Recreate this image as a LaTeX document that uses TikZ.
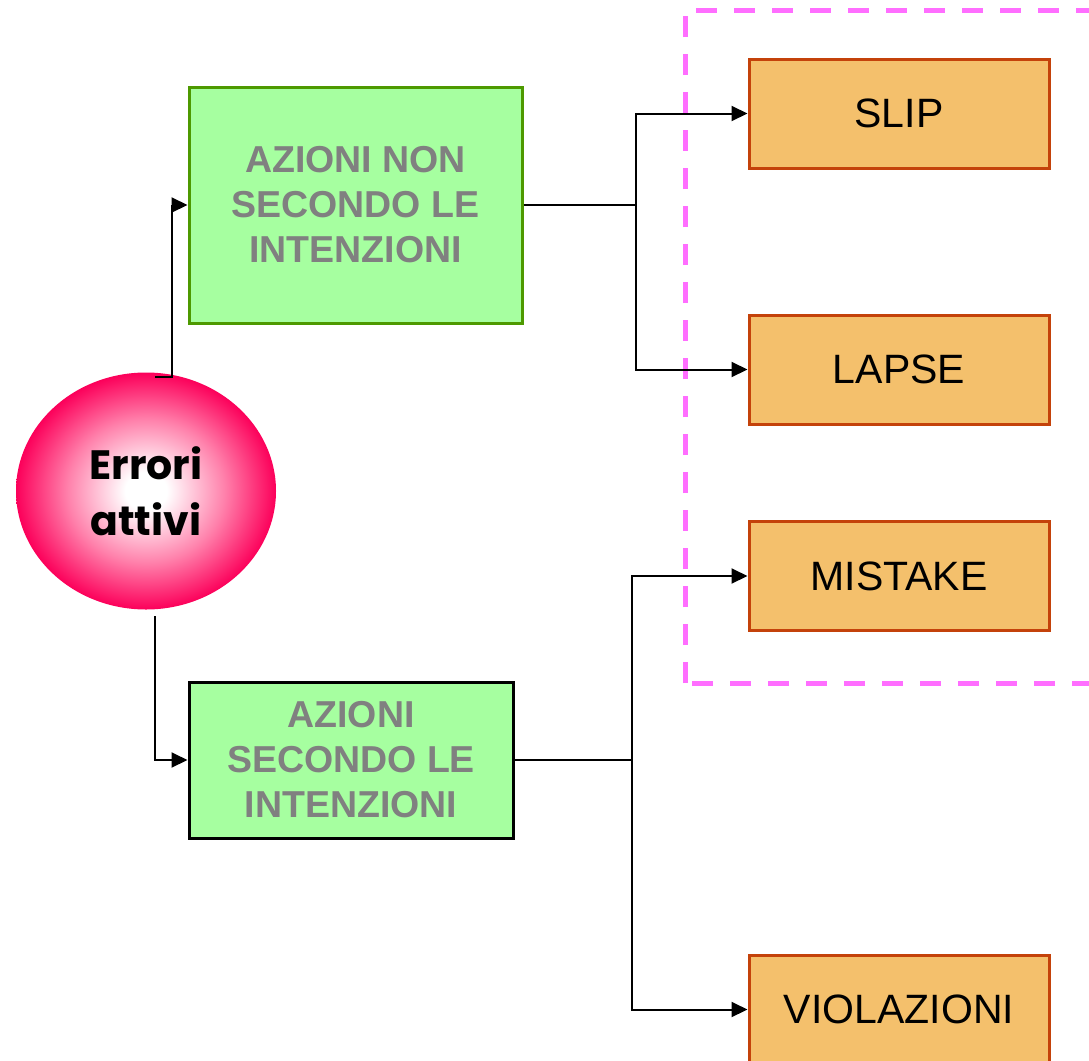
\documentclass[tikz,border=0pt]{standalone}
\usepackage{fontspec}
\setmainfont{Liberation Sans}
\newfontfamily\popfont{Poppins}
\usetikzlibrary{arrows.meta,shapes.geometric}
\definecolor{greenfill}{RGB}{166,255,160}
\definecolor{greenedge}{RGB}{77,153,0}
\definecolor{orangefill}{RGB}{244,192,108}
\definecolor{orangeedge}{RGB}{196,66,10}
\definecolor{dashmag}{RGB}{255,110,255}
\definecolor{pinkc}{RGB}{252,0,90}
\definecolor{pinkmid}{RGB}{255,130,172}
\definecolor{graytext}{RGB}{128,128,128}
\pgfdeclareradialshading{ballshade}{\pgfpoint{0bp}{0bp}}{color(0bp)=(white); color(4bp)=(white); color(15bp)=(pinkmid); color(25bp)=(pinkc); color(50bp)=(pinkc)}
\tikzset{
  greenbox/.style={draw=greenedge, fill=greenfill, line width=3pt, inner sep=0pt,
    text=graytext, font=\fontsize{37.5}{45}\selectfont\bfseries, align=center},
  orangebox/.style={draw=orangeedge, fill=orangefill, line width=3pt, inner sep=0pt,
    minimum width=300pt, minimum height=109pt, font=\fontsize{41}{48}\selectfont},
  conn/.style={line width=2pt, -{Triangle[length=16pt,width=15pt]}},
  plainconn/.style={line width=2pt},
}
\begin{document}
\begin{tikzpicture}[x=1pt,y=-1pt]
\clip (0,0) rectangle (1089,1060);
\fill[white] (0,0) rectangle (1089,1060);
% dashed frame
\draw[dashmag, line width=5pt, dash pattern=on 21pt off 17pt] (685,683) -- (685,10) -- (1120,10);
\draw[dashmag, line width=5pt, dash pattern=on 21pt off 17pt] (692,683) -- (1120,683);
% ellipse
\node[ellipse, shading=ballshade, minimum width=260pt, minimum height=237pt, inner sep=0pt,
  align=center, font=\popfont\fontsize{41}{56}\selectfont\bfseries] (err) at (146,491) {Errori\\attivi};
% green boxes
\node[greenbox, minimum width=333pt, minimum height=236pt] (b1) at (355.5,205) {AZIONI NON\\SECONDO LE\\INTENZIONI};
\node[greenbox, draw=black, minimum width=324pt, minimum height=156pt] (b2) at (351,760) {AZIONI\\SECONDO LE\\INTENZIONI};
% orange boxes
\node[orangebox] (slip) at (899,113.5) {SLIP};
\node[orangebox] (lapse) at (899,369.5) {LAPSE};
\node[orangebox] (mist) at (899,576) {MISTAKE};
\node[orangebox] (viol) at (899,1009.5) {VIOLAZIONI};
% connectors
\coordinate (s1) at (155,377);
\coordinate (s2) at (155,616);
\coordinate (j1) at (636,205);
\coordinate (j2) at (632,760);
\draw[conn] (s1) -- ++(17,0) |- (b1.west);
\draw[conn] (s2) |- (b2.west);
\draw[plainconn] (b1.east) -- (j1);
\draw[conn] (j1) |- (slip.west);
\draw[conn] (j1) |- (lapse.west);
\draw[plainconn] (b2.east) -- (j2);
\draw[conn] (j2) |- (mist.west);
\draw[conn] (j2) |- (viol.west);
\end{tikzpicture}
\end{document}
